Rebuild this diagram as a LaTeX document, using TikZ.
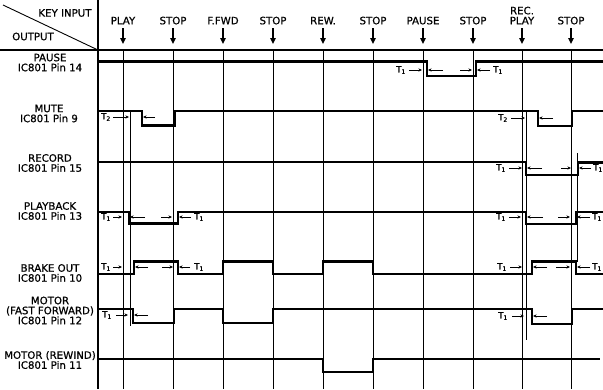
\documentclass[tikz,border=0pt]{standalone}
\usepackage{fontspec}
\setmainfont{DejaVu Sans}[FakeBold=0.7]
\usepackage{tikz}
\usetikzlibrary{arrows.meta,positioning,calc}

\newcommand{\lblfont}{\fontsize{10.2}{10}\selectfont}
\newcommand{\tfont}{\fontsize{8.6}{8}\selectfont}

\begin{document}
\begin{tikzpicture}[
  x=1pt, y=-1pt,
  grid/.style = {line width=0.8pt},
  frame/.style = {line width=1.9pt},
  signal/.style = {line width=2.4pt, line join=miter},
  guide/.style = {line width=0.7pt},
  keyarrow/.style = {line width=1.6pt, -{Triangle[length=6pt,width=5.5pt]}},
  dim/.style = {line width=0.9pt, -{Stealth[length=3.6pt,width=3.2pt]}},
  every node/.style = {font=\lblfont, inner sep=0pt},
  rowlabel/.style = {align=center},
  keylabel/.style = {align=center, anchor=south, text depth=0pt},
  tlabel/.style = {font=\tfont}
]
\useasboundingbox (0,0) rectangle (603,389);

% header
\draw[frame] (98,0) -- (98,389);
\draw[frame] (0,50) -- (603,50);
\draw[line width=0.9pt] (3,5) -- (98,50);
\node (keyin) at (65,13) {KEY INPUT};
\node (outp) at (33,36.5) {OUTPUT};

% key inputs and event lines
\foreach \x/\lab [count=\i] in {123/PLAY, 173/STOP, 223/F.FWD, 273/STOP,
    323/REW., 373/STOP, 423/PAUSE, 473/STOP, 522/{REC.\\PLAY}, 571/STOP} {
  \node[keylabel] (key\i) at (\x,24.5) {\lab};
  \coordinate (ev\i) at (\x,50);
  \draw[keyarrow, shorten <=3.5pt, shorten >=6pt] (key\i.south) -- (ev\i);
  \draw[grid] (ev\i) -- (\x,389);
}

% thin guide lines
\draw[guide] (130,111) -- (130,326);
\draw[guide] (526,111) -- (526,340);
\draw[guide] (577,153) -- (577,262);

% output labels
\node[rowlabel] (pause) at (50,62.5) {PAUSE\\IC801 Pin 14};
\node[rowlabel] (mute) at (49,113.5) {MUTE\\IC801 Pin 9};
\node[rowlabel] (record) at (50,163) {RECORD\\IC801 Pin 15};
\node[rowlabel] (play) at (50,211) {PLAYBACK\\IC801 Pin 13};
\node[rowlabel] (brake) at (50,273) {BRAKE OUT\\IC801 Pin 10};
\node[rowlabel] (motff) at (50,310.5) {MOTOR\\(FAST FORWARD)\\IC801 Pin 12};
\node[rowlabel] (motrew) at (50,360) {MOTOR (REWIND)\\IC801 Pin 11};

% signals
\draw[signal] (98,61.5) -- (427,61.5) -- (427,76) -- (476,76) -- (476,61.5) -- (603,61.5);
\draw[signal] (98,111) -- (142,111) -- (142,125.5) -- (175,125.5) -- (175,111)
  -- (538,111) -- (538,126) -- (572,126) -- (572,111) -- (603,111);
\draw[signal] (98,162) -- (526,162) -- (526,175) -- (578,175) -- (578,162.5) -- (603,162.5);
\draw[signal] (98,212) -- (129,212) -- (129,223.5) -- (178,223.5) -- (178,212)
  -- (526,212) -- (526,224) -- (576,224) -- (576,212) -- (603,212);
\draw[signal] (98,274) -- (134,274) -- (134,261.5) -- (178,261.5) -- (178,274)
  -- (223,274) -- (223,261.5) -- (273,261.5) -- (273,274)
  -- (323,274) -- (323,261.5) -- (373,261.5) -- (373,274)
  -- (532,274) -- (532,261.5) -- (576,261.5) -- (576,274) -- (603,274);
\draw[signal] (98,309) -- (133,309) -- (133,323) -- (174,323) -- (174,309)
  -- (223,309) -- (223,323) -- (273,323) -- (273,309)
  -- (532,309) -- (532,324) -- (572,324) -- (572,309) -- (603,309);
\draw[signal] (98,359) -- (323,359) -- (323,372) -- (373,372) -- (373,359) -- (600,359);

% timing marks: pause
\node[tlabel] (tpa1) at (401,70) {T\textsubscript{1}};
\draw[dim] (409,70) -- (422,70);
\draw[dim] (443,70) -- (428,70);
\draw[dim] (460,70) -- (472,70);
\draw[dim] (490,70) -- (477,70);
\node[tlabel] (tpa2) at (498,70) {T\textsubscript{1}};

% timing marks: mute
\node[tlabel] (tmu1) at (106,117) {T\textsubscript{2}};
\draw[dim] (113,117) -- (129,117);
\draw[dim] (155,117) -- (143,117);
\node[tlabel] (tmu2) at (503,118) {T\textsubscript{2}};
\draw[dim] (511,118) -- (525,118);
\draw[dim] (553,118) -- (539,118);

% timing marks: record
\node[tlabel] (tre1) at (501,168) {T\textsubscript{1}};
\draw[dim] (509,168) -- (522,168);
\draw[dim] (542,168) -- (527,168);
\draw[dim] (561,168) -- (571,168);
\draw[dim] (591,168) -- (579,168);
\node[tlabel] (tre2) at (598,168) {T\textsubscript{1}};

% timing marks: playback
\node[tlabel] (tpl1) at (106,217) {T\textsubscript{1}};
\draw[dim] (113,217) -- (122,217);
\draw[dim] (145,217) -- (130,217);
\draw[dim] (161,217) -- (172,217);
\draw[dim] (191,217) -- (179,217);
\node[tlabel] (tpl2) at (199,217) {T\textsubscript{1}};
\node[tlabel] (tpl3) at (501,217) {T\textsubscript{1}};
\draw[dim] (509,217) -- (521,217);
\draw[dim] (543,217) -- (527,217);
\draw[dim] (558,217) -- (570,217);
\draw[dim] (590,217) -- (577,217);
\node[tlabel] (tpl4) at (597,217) {T\textsubscript{1}};

% timing marks: brake out
\node[tlabel] (tbr1) at (106,267) {T\textsubscript{1}};
\draw[dim] (113,267) -- (122,267);
\draw[dim] (148,267) -- (135,267);
\draw[dim] (162,267) -- (173,267);
\draw[dim] (190,267) -- (179,267);
\node[tlabel] (tbr2) at (199,267) {T\textsubscript{1}};
\node[tlabel] (tbr3) at (502,267) {T\textsubscript{1}};
\draw[dim] (510,267) -- (522,267);
\draw[dim] (547,267) -- (533,267);
\draw[dim] (556,267) -- (570,267);
\draw[dim] (590,267) -- (577,267);
\node[tlabel] (tbr4) at (597,267) {T\textsubscript{1}};

% timing marks: motor fast forward
\node[tlabel] (tff1) at (107,315) {T\textsubscript{1}};
\draw[dim] (116,315) -- (128,315);
\draw[dim] (148,315) -- (134,315);
\node[tlabel] (tff2) at (503,316) {T\textsubscript{1}};
\draw[dim] (512,316) -- (524,316);
\draw[dim] (547,316) -- (533,316);

\end{tikzpicture}
\end{document}
